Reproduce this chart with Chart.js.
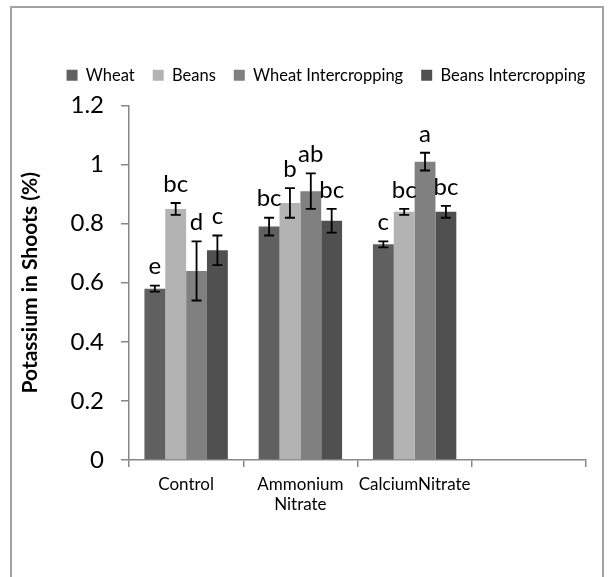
<!DOCTYPE html>
<html>
<head>
<meta charset="utf-8">
<script src="https://cdn.jsdelivr.net/npm/chart.js@4.4.1/dist/chart.umd.min.js"></script>
<style>
  body { margin: 0; background: #fff; overflow: hidden; }
  #wrap { position: relative; width: 610px; height: 577px; }
  #frame { position: absolute; left: 10px; top: 6px; width: 590px; height: 600px; border: 2px solid #a3a3a3; }
  canvas { position: absolute; left: 0; top: 0; }
</style>
</head>
<body>
<div id="wrap">
  <div id="frame"></div>
  <canvas id="chartBar" width="610" height="577"></canvas>
</div>
<script>
// categories (4th slot is empty in the original)
const categories = ["Control", ["Ammonium", "Nitrate"], "CalciumNitrate", ""];

// potassium in shoots (%)
const wheat = [0.58, 0.79, 0.73];
const beans = [0.85, 0.87, 0.84];
const wheatInter = [0.64, 0.91, 1.01];
const beansInter = [0.71, 0.81, 0.84];

// error bar half-lengths
const wheatErr = [0.01, 0.03, 0.01];
const beansErr = [0.02, 0.05, 0.01];
const wheatInterErr = [0.10, 0.06, 0.03];
const beansInterErr = [0.05, 0.04, 0.02];

// significance letters
const wheatLetters = ["e", "bc", "c"];
const beansLetters = ["bc", "b", "bc"];
const wheatInterLetters = ["d", "ab", "a"];
const beansInterLetters = ["c", "bc", "bc"];

const axisColor = "#878787";
Chart.defaults.font.family = "Lato";
Chart.defaults.color = "#000";

// error bars + letters on top of each bar
const errorBars = {
  id: "errorBars",
  afterDatasetsDraw(chart) {
    const ctx = chart.ctx;
    const y = chart.scales.y;
    ctx.save();
    ctx.strokeStyle = "#000";
    ctx.lineWidth = 1.8;
    ctx.fillStyle = "#000";
    ctx.font = "24px Lato";
    ctx.textAlign = "center";
    ctx.textBaseline = "middle";
    chart.data.datasets.forEach((ds, i) => {
      chart.getDatasetMeta(i).data.forEach((bar, j) => {
        const v = ds.data[j], e = ds.errors[j];
        const top = y.getPixelForValue(v + e);
        const bot = y.getPixelForValue(v - e);
        ctx.beginPath();
        ctx.moveTo(bar.x, top); ctx.lineTo(bar.x, bot);
        ctx.moveTo(bar.x - 5, top); ctx.lineTo(bar.x + 5, top);
        ctx.moveTo(bar.x - 5, bot); ctx.lineTo(bar.x + 5, bot);
        ctx.stroke();
        ctx.fillText(ds.letters[j], bar.x, top - 19);
      });
    });
    ctx.restore();
  }
};

// nudge legend to where the original has it
const legendShift = {
  id: "legendShift",
  afterLayout(chart) {
    const lg = chart.legend;
    lg.left += 33; lg.right += 33;
    lg.top -= 12; lg.bottom -= 12;
  }
};

const ctx = document.getElementById("chartBar").getContext("2d");

const chartBar = new Chart(ctx, {
  type: "bar",
  data: {
    labels: categories,
    datasets: [
      { label: "Wheat", data: wheat, errors: wheatErr, letters: wheatLetters, backgroundColor: "#606060" },
      { label: "Beans", data: beans, errors: beansErr, letters: beansLetters, backgroundColor: "#b3b3b3" },
      { label: "Wheat Intercropping", data: wheatInter, errors: wheatInterErr, letters: wheatInterLetters, backgroundColor: "#808080" },
      { label: "Beans Intercropping", data: beansInter, errors: beansInterErr, letters: beansInterLetters, backgroundColor: "#505050" },
    ],
  },
  options: {
    responsive: false,
    animation: false,
    devicePixelRatio: 1,
    layout: { padding: { top: 61, left: 0, right: 24, bottom: 10 } },
    datasets: { bar: { categoryPercentage: 0.73, barPercentage: 1 } },
    plugins: {
      legend: {
        position: "top",
        labels: { boxWidth: 11, boxHeight: 11, padding: 18, color: "#000", font: { size: 16.5 } },
      },
      tooltip: { enabled: false },
    },
    scales: {
      x: {
        afterFit(scale) { scale.height = 107; },
        border: { color: axisColor, width: 1.5 },
        grid: { drawOnChartArea: false, tickLength: 7, color: axisColor, lineWidth: 1.5 },
        ticks: { padding: 7, color: "#000", font: { size: 17 }, maxRotation: 0, autoSkip: false },
      },
      y: {
        min: 0,
        max: 1.2,
        afterFit(scale) { scale.width = 129; },
        border: { color: axisColor, width: 1.5 },
        grid: { drawOnChartArea: false, tickLength: 8, color: axisColor, lineWidth: 1.5 },
        ticks: {
          stepSize: 0.2,
          padding: 17,
          color: "#000",
          font: { size: 24 },
          callback: (v) => String(+v.toFixed(1)),
        },
        title: {
          display: true,
          text: "Potassium in Shoots (%)",
          color: "#000",
          font: { size: 21, weight: "bold" },
          padding: { top: 18, bottom: 0 },
        },
      },
    },
  },
  plugins: [errorBars, legendShift],
});
</script>
</body>
</html>
